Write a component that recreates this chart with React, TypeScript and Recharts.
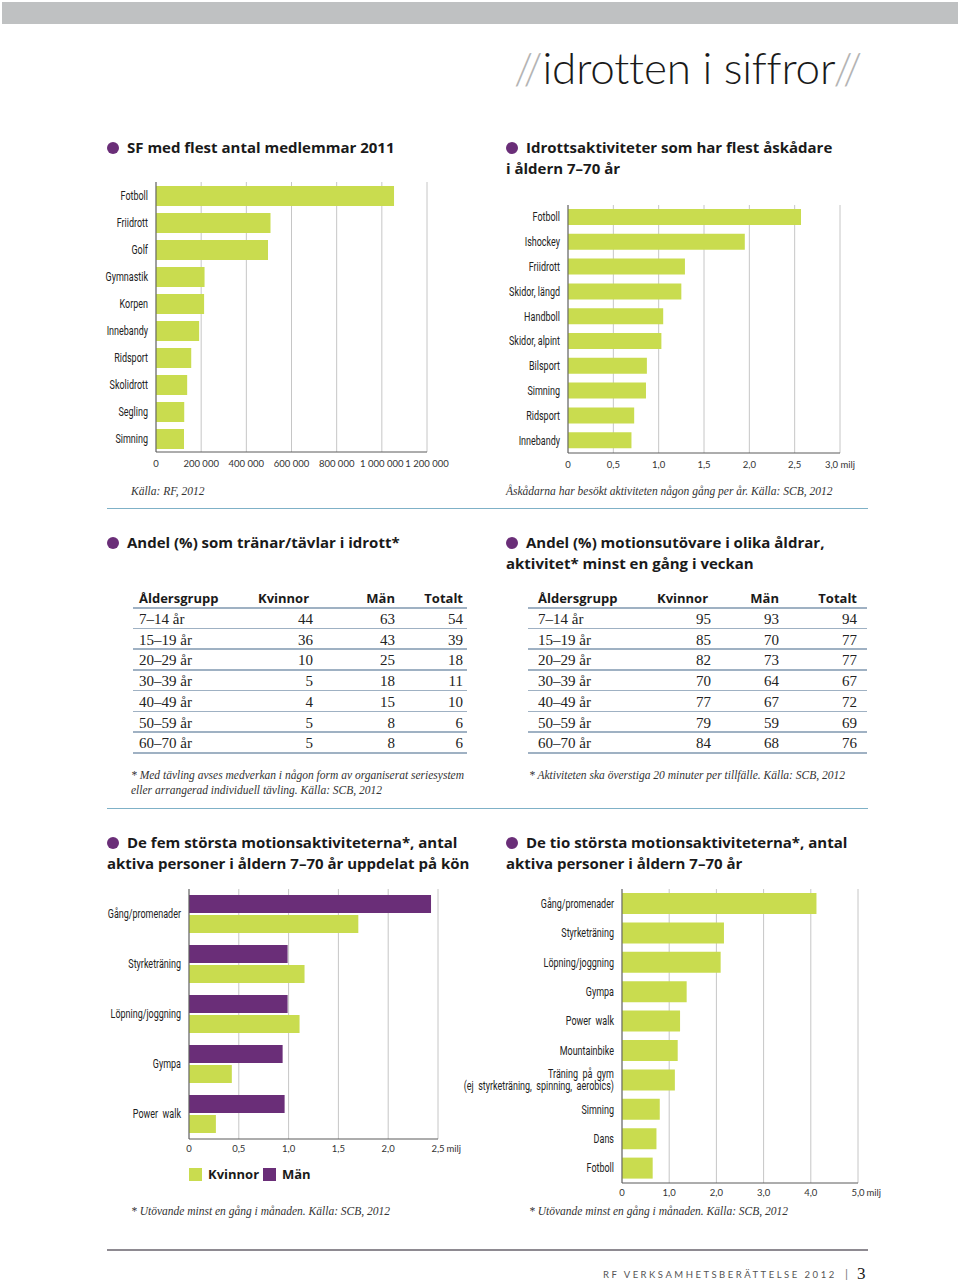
import React from 'react'
import { Bar, BarChart, CartesianGrid, XAxis, YAxis } from 'recharts'

// SF med flest antal medlemmar 2011
const sfNames = ['Fotboll', 'Friidrott', 'Golf', 'Gymnastik', 'Korpen', 'Innebandy', 'Ridsport', 'Skolidrott', 'Segling', 'Simning']
const sfMembers = [1054000, 507000, 496000, 215000, 213000, 191000, 156000, 138000, 125000, 124000]
const sfTicks = [0, 200000, 400000, 600000, 800000, 1000000, 1200000]

// Idrottsaktiviteter med flest åskådare (milj)
const specNames = ['Fotboll', 'Ishockey', 'Friidrott', 'Skidor, längd', 'Handboll', 'Skidor, alpint', 'Bilsport', 'Simning', 'Ridsport', 'Innebandy']
const specValues = [2.57, 1.95, 1.29, 1.25, 1.05, 1.03, 0.87, 0.86, 0.73, 0.7]
const specTicks = [0, 0.5, 1, 1.5, 2, 2.5, 3]

// tables
const ageGroups = ['7–14 år', '15–19 år', '20–29 år', '30–39 år', '40–49 år', '50–59 år', '60–70 år']
const trainWomen = [44, 36, 10, 5, 4, 5, 5]
const trainMen = [63, 43, 25, 18, 15, 8, 8]
const trainTotal = [54, 39, 18, 11, 10, 6, 6]
const exWomen = [95, 85, 82, 70, 77, 79, 84]
const exMen = [93, 70, 73, 64, 67, 59, 68]
const exTotal = [94, 77, 77, 67, 72, 69, 76]

// De fem största motionsaktiviteterna (milj)
const fiveNames = ['Gång/promenader', 'Styrketräning', 'Löpning/joggning', 'Gympa', 'Power  walk']
const fiveWomen = [1.7, 1.16, 1.11, 0.43, 0.27]
const fiveMen = [2.43, 0.99, 0.99, 0.94, 0.96]
const fiveTicks = [0, 0.5, 1, 1.5, 2, 2.5]

// De tio största motionsaktiviteterna (milj)
const tenNames = ['Gång/promenader', 'Styrketräning', 'Löpning/joggning', 'Gympa', 'Power  walk', 'Mountainbike', 'Träning  på  gym\n(ej  styrketräning,  spinning,  aerobics)', 'Simning', 'Dans', 'Fotboll']
const tenValues = [4.12, 2.16, 2.09, 1.37, 1.23, 1.18, 1.12, 0.8, 0.73, 0.65]
const tenTicks = [0, 1, 2, 3, 4, 5]

const GREEN = '#c9dc4f'
const PURPLE = '#6a2e78'
const GRID = '#c6c6c6'
const AXIS = '#5a5a5a'
const SANS = 'Lato, "Open Sans", sans-serif'
const BOLD = '"Open Sans", Lato, sans-serif'
const COND = 'Roboto, "DejaVu Sans", sans-serif'
const SERIF = '"Liberation Serif", "DejaVu Serif", serif'

const sfData = sfNames.map((name, i) => ({ name, value: sfMembers[i] }))
const specData = specNames.map((name, i) => ({ name, value: specValues[i] }))
const fiveData = fiveNames.map((name, i) => ({ name, kvinnor: fiveWomen[i], man: fiveMen[i] }))
const tenData = tenNames.map((name, i) => ({ name, value: tenValues[i] }))

const spaced = (v: number) => (v === 0 ? '0' : String(v).replace(/\B(?=(\d{3})+(?!\d))/g, ' '))
const comma = (v: number) => (v === 0 ? '0' : v.toFixed(1).replace('.', ','))

const xTick = { fontSize: 9.5, fill: '#333', fontFamily: SANS }

function MiljTick(props: any) {
  const { x, y, payload, last } = props
  return (
    <g>
      <text x={x} y={y} dy={5} textAnchor="middle" fontSize={9.5} fill="#333" fontFamily={SANS}>
        {comma(payload.value)}
      </text>
      {payload.value === last && (
        <text x={x + 8.5} y={y} dy={5} textAnchor="start" fontSize={9.5} fill="#333" fontFamily={SANS}>
          milj
        </text>
      )}
    </g>
  )
}

// condensed category label (one or two lines)
function CondTick(props: any) {
  const { x, y, payload } = props
  const lines = String(payload.value).split('\n')
  const step = 11.5
  const start = -((lines.length - 1) * step) / 2
  return (
    <g transform={`translate(${x},${y})`}>
      <text transform="scale(0.72,1)" textAnchor="end" fontSize={12.5} fill="#222" fontFamily={COND} style={{ whiteSpace: 'pre' }}>
        {lines.map((l, i) => (
          <tspan key={i} x={0} dy={i === 0 ? start + 4 : step}>
            {l}
          </tspan>
        ))}
      </text>
    </g>
  )
}

function Abs({ x, y, children, style }: { x: number; y: number; children: React.ReactNode; style?: React.CSSProperties }) {
  return <div style={{ position: 'absolute', left: x, top: y, whiteSpace: 'nowrap', ...style }}>{children}</div>
}

function Title({ x, y, lines }: { x: number; y: number; lines: string[] }) {
  return (
    <div style={{ position: 'absolute', left: x, top: y, fontFamily: BOLD, fontWeight: 700, fontSize: 15, lineHeight: '21px', color: '#1a1a1a', whiteSpace: 'nowrap' }}>
      <span style={{ display: 'inline-block', width: 12, height: 12, borderRadius: 6, background: PURPLE, marginRight: 8, verticalAlign: -1 }} />
      {lines[0]}
      {lines[1] && <div>{lines[1]}</div>}
    </div>
  )
}

function Note({ x, y, children }: { x: number; y: number; children: React.ReactNode }) {
  return (
    <Abs x={x} y={y} style={{ fontFamily: SERIF, fontStyle: 'italic', fontSize: 11.5, color: '#333', lineHeight: '15px' }}>
      {children}
    </Abs>
  )
}

function Table({ x, cols, rows }: { x: number; cols: number[]; rows: number[][] }) {
  // cols: [nameLeft, kvinnorHeaderLeft, kvinnorRight, manRight, totalRight, lineRight]
  const [nameX, kvX, kvR, manR, totR, lineR] = cols
  const lineYs = [607, 627.5, 648.3, 669, 689.8, 710.5, 731.3, 752]
  const header = { fontFamily: BOLD, fontWeight: 700, fontSize: 13, color: '#1a1a1a' }
  const body = { fontFamily: SERIF, fontSize: 15, color: '#222' }
  return (
    <>
      <Abs x={nameX} y={589} style={header}>Åldersgrupp</Abs>
      <Abs x={kvX} y={589} style={header}>Kvinnor</Abs>
      <Abs x={manR - 60} y={589} style={{ ...header, width: 60, textAlign: 'right' }}>Män</Abs>
      <Abs x={totR - 60} y={589} style={{ ...header, width: 60, textAlign: 'right' }}>Totalt</Abs>
      {lineYs.map((ly, i) => (
        <div key={i} style={{ position: 'absolute', left: x, top: ly, width: lineR - x, height: 1.5, background: '#9fb1c3' }} />
      ))}
      {ageGroups.map((g, i) => {
        const top = 611 + i * 20.7
        return (
          <React.Fragment key={g}>
            <Abs x={nameX} y={top} style={body}>{g}</Abs>
            <Abs x={kvR - 40} y={top} style={{ ...body, width: 40, textAlign: 'right' }}>{rows[0][i]}</Abs>
            <Abs x={manR - 40} y={top} style={{ ...body, width: 40, textAlign: 'right' }}>{rows[1][i]}</Abs>
            <Abs x={totR - 40} y={top} style={{ ...body, width: 40, textAlign: 'right' }}>{rows[2][i]}</Abs>
          </React.Fragment>
        )
      })}
    </>
  )
}

export default function App() {
  return (
    <div style={{ position: 'absolute', left: 0, top: 0, width: 960, height: 1284, background: '#fff', overflow: 'hidden' }}>
      {/* header */}
      <div style={{ position: 'absolute', left: 2, top: 2, width: 956, height: 22, background: '#bfc1c2' }} />
      <Abs x={514} y={41} style={{ fontFamily: SANS, fontWeight: 300, fontSize: 44, color: '#1a1a1a', letterSpacing: -0.2 }}>
        <span style={{ color: '#b4b4b4' }}>//</span>idrotten i siffror<span style={{ color: '#b4b4b4' }}>//</span>
      </Abs>

      {/* row 1 */}
      <Title x={107} y={137} lines={['SF med flest antal medlemmar 2011']} />
      <Title x={506} y={137} lines={['Idrottsaktiviteter som har flest åskådare', 'i åldern 7–70 år']} />

      <div style={{ position: 'absolute', left: 100, top: 170 }}>
        <BarChart width={360} height={310} data={sfData} layout="vertical" margin={{ top: 12, right: 33, left: 0, bottom: 0 }}>
          <CartesianGrid horizontal={false} stroke={GRID} />
          <XAxis type="number" domain={[0, 1200000]} ticks={sfTicks} tickFormatter={spaced} axisLine={{ stroke: AXIS }} tickLine={false} tick={xTick} height={28} interval={0} />
          <YAxis type="category" dataKey="name" width={56} axisLine={{ stroke: AXIS }} tickLine={false} tick={<CondTick />} interval={0} />
          <Bar dataKey="value" fill={GREEN} barSize={20} isAnimationActive={false} />
        </BarChart>
      </div>

      <div style={{ position: 'absolute', left: 500, top: 195 }}>
        <BarChart width={370} height={285} data={specData} layout="vertical" margin={{ top: 10, right: 30, left: 0, bottom: 0 }}>
          <CartesianGrid horizontal={false} stroke={GRID} />
          <XAxis type="number" domain={[0, 3]} ticks={specTicks} tickFormatter={(v: number) => (v === 3 ? '3,0 milj' : comma(v))} axisLine={{ stroke: AXIS }} tickLine={false} tick={xTick} height={27} interval={0} />
          <YAxis type="category" dataKey="name" width={68} axisLine={{ stroke: AXIS }} tickLine={false} tick={<CondTick />} interval={0} />
          <Bar dataKey="value" fill={GREEN} barSize={16} isAnimationActive={false} />
        </BarChart>
      </div>

      <Note x={131} y={484}>Källa: RF, 2012</Note>
      <Note x={506} y={484}>Åskådarna har besökt aktiviteten någon gång per år. Källa: SCB, 2012</Note>

      <div style={{ position: 'absolute', left: 107, top: 507.5, width: 761, height: 1.5, background: '#7fb1c7' }} />

      {/* row 2: tables */}
      <Title x={107} y={532} lines={['Andel (%) som tränar/tävlar i idrott*']} />
      <Title x={506} y={532} lines={['Andel (%) motionsutövare i olika åldrar,', 'aktivitet* minst en gång i veckan']} />

      <Table x={133} cols={[139, 258, 313, 395, 463, 467]} rows={[trainWomen, trainMen, trainTotal]} />
      <Table x={528} cols={[538, 657, 711, 779, 857, 867]} rows={[exWomen, exMen, exTotal]} />

      <Note x={131} y={768}>
        * Med tävling avses medverkan i någon form av organiserat seriesystem
        <br />
        eller arrangerad individuell tävling. Källa: SCB, 2012
      </Note>
      <Note x={529} y={768}>* Aktiviteten ska överstiga 20 minuter per tillfälle. Källa: SCB, 2012</Note>

      <div style={{ position: 'absolute', left: 107, top: 807.5, width: 761, height: 1.5, background: '#7fb1c7' }} />

      {/* row 3 */}
      <Title x={107} y={832} lines={['De fem största motionsaktiviteterna*, antal', 'aktiva personer i åldern 7–70 år uppdelat på kön']} />
      <Title x={506} y={832} lines={['De tio största motionsaktiviteterna*, antal', 'aktiva personer i åldern 7–70 år']} />

      <div style={{ position: 'absolute', left: 100, top: 880 }}>
        <BarChart width={370} height={280} data={fiveData} layout="vertical" margin={{ top: 9, right: 32, left: 0, bottom: 0 }} barGap={2}>
          <CartesianGrid horizontal={false} stroke={GRID} />
          <XAxis type="number" domain={[0, 2.5]} ticks={fiveTicks} axisLine={{ stroke: AXIS }} tickLine={false} tick={<MiljTick last={2.5} />} height={21} interval={0} />
          <YAxis type="category" dataKey="name" width={89} axisLine={{ stroke: AXIS }} tickLine={false} tick={<CondTick />} interval={0} />
          <Bar dataKey="man" name="Män" fill={PURPLE} barSize={18} isAnimationActive={false} />
          <Bar dataKey="kvinnor" name="Kvinnor" fill={GREEN} barSize={18} isAnimationActive={false} />
        </BarChart>
      </div>

      {/* legend */}
      <div style={{ position: 'absolute', left: 189, top: 1168, width: 13, height: 13, background: GREEN }} />
      <Abs x={208} y={1165} style={{ fontFamily: BOLD, fontWeight: 700, fontSize: 13, color: '#1a1a1a' }}>Kvinnor</Abs>
      <div style={{ position: 'absolute', left: 263, top: 1168, width: 13, height: 13, background: PURPLE }} />
      <Abs x={282} y={1165} style={{ fontFamily: BOLD, fontWeight: 700, fontSize: 13, color: '#1a1a1a' }}>Män</Abs>

      <div style={{ position: 'absolute', left: 460, top: 880 }}>
        <BarChart width={430} height={325} data={tenData} layout="vertical" margin={{ top: 9, right: 32, left: 0, bottom: 0 }}>
          <CartesianGrid horizontal={false} stroke={GRID} />
          <XAxis type="number" domain={[0, 5]} ticks={tenTicks} axisLine={{ stroke: AXIS }} tickLine={false} tick={<MiljTick last={5} />} height={22} interval={0} />
          <YAxis type="category" dataKey="name" width={162} axisLine={{ stroke: AXIS }} tickLine={false} tick={<CondTick />} interval={0} />
          <Bar dataKey="value" fill={GREEN} barSize={21} isAnimationActive={false} />
        </BarChart>
      </div>

      <Note x={131} y={1204}>* Utövande minst en gång i månaden. Källa: SCB, 2012</Note>
      <Note x={529} y={1204}>* Utövande minst en gång i månaden. Källa: SCB, 2012</Note>

      {/* footer */}
      <div style={{ position: 'absolute', left: 107, top: 1249, width: 761, height: 2, background: '#8e8a91' }} />
      <Abs x={603} y={1269} style={{ fontFamily: SANS, fontSize: 9.5, letterSpacing: 2.5, color: '#555' }}>
        RF VERKSAMHETSBERÄTTELSE 2012
      </Abs>
      <Abs x={845} y={1266} style={{ fontFamily: SANS, fontSize: 12, color: '#777' }}>|</Abs>
      <Abs x={857} y={1264} style={{ fontFamily: SERIF, fontSize: 17, color: '#1a1a1a' }}>3</Abs>
    </div>
  )
}
